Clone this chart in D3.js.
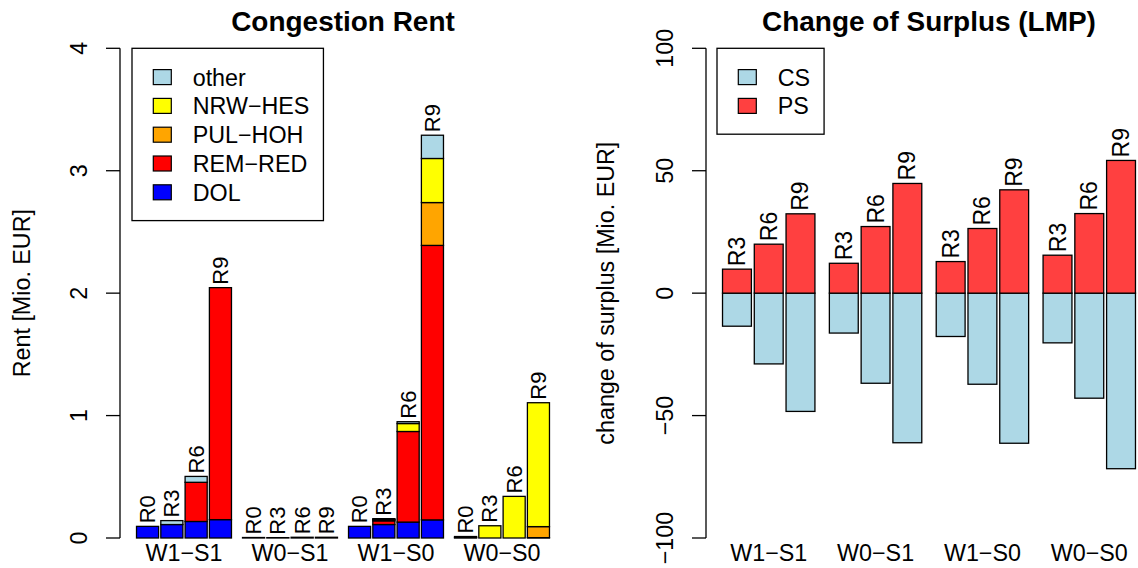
<!DOCTYPE html>
<html>
<head>
<meta charset="utf-8">
<script src="https://cdn.jsdelivr.net/npm/d3@7"></script>
<style>
  body { margin: 0; background: #fff; }
  svg { display: block; font-family: "Liberation Sans", Arial, sans-serif; }
</style>
</head>
<body>
<div id="chart"></div>
<script>
// ---- data ----
const groups = ["W1\u2212S1", "W0\u2212S1", "W1\u2212S0", "W0\u2212S0"];

// congestion rent, 4 runs per group, values in Mio. EUR
const rentRuns = ["R0", "R3", "R6", "R9"];
const rentSeries = ["DOL", "REM\u2212RED", "PUL\u2212HOH", "NRW\u2212HES", "other"];
const rentColors = ["#0000ff", "#ff0000", "#ffa500", "#ffff00", "#add8e6"];
const dol    = [0.095, 0.11, 0.135, 0.15,  0.004, 0.003, 0.006, 0.006,  0.095, 0.11, 0.13, 0.148,  0.004, 0, 0, 0];
const remRed = [0, 0, 0.32, 1.895,         0, 0, 0, 0,                  0, 0.03, 0.74, 2.242,      0, 0, 0, 0.003];
const pulHoh = [0, 0, 0, 0,                0, 0, 0, 0,                  0, 0.008, 0, 0.35,         0, 0, 0, 0.09];
const nrwHes = [0, 0, 0, 0,                0, 0, 0, 0,                  0, 0.004, 0.065, 0.36,     0.008, 0.1, 0.34, 1.012];
const other  = [0, 0.032, 0.048, 0,        0, 0, 0, 0,                  0, 0.006, 0.015, 0.19,     0, 0, 0, 0];
const rentTicks = [0, 1, 2, 3, 4];

// change of surplus, 3 runs per group
const surplusRuns = ["R3", "R6", "R9"];
const ps = [9.8, 20.0, 32.4,  12.2, 27.2, 44.8,  12.9, 26.4, 42.2,  15.5, 32.5, 54.2];
const cs = [-13.5, -28.9, -48.3,  -16.3, -36.8, -61.1,  -17.7, -37.2, -61.3,  -20.3, -42.9, -71.7];
const surplusTicks = [-100, -50, 0, 50, 100];

// ---- layout ----
const W = 1138, H = 568;
const base = 23.3;
const yTop = 48.3, yBottom = 538;
const plotW = 446;

const svg = d3.select("#chart").append("svg")
    .attr("width", W).attr("height", H);

function xScales(left, nGroups, nBars) {
    // R barplot style: bar width 1, gap 0.1 inside a group, 0.5 between groups
    const groupUnits = nBars + 0.1 * (nBars - 1);
    const spanUnits = nGroups * groupUnits + (nGroups - 1) * 0.5;
    const unit = plotW / (spanUnits * 1.08);
    const start = left + 0.04 * spanUnits * unit;
    const x0 = d3.scaleBand()
        .domain(d3.range(nGroups))
        .range([start, start + spanUnits * unit])
        .paddingInner(0.5 / (groupUnits + 0.5))
        .paddingOuter(0);
    const x1 = d3.scaleBand()
        .domain(d3.range(nBars))
        .range([0, x0.bandwidth()])
        .paddingInner(0.1 / 1.1)
        .paddingOuter(0);
    return { x0, x1 };
}

function drawYAxis(g, left, y, ticks, title, titleX) {
    g.append("line")
        .attr("x1", left).attr("x2", left)
        .attr("y1", y(ticks[0])).attr("y2", y(ticks[ticks.length - 1]))
        .attr("stroke", "#000").attr("stroke-width", 1.3);
    ticks.forEach(t => {
        g.append("line")
            .attr("x1", left - 14).attr("x2", left)
            .attr("y1", y(t)).attr("y2", y(t))
            .attr("stroke", "#000").attr("stroke-width", 1.3);
        g.append("text")
            .attr("transform", "translate(" + (left - 33) + "," + y(t) + ") rotate(-90)")
            .attr("text-anchor", "middle")
            .style("font-size", base + "px")
            .text(String(t).replace("-", "\u2212"));
    });
    g.append("text")
        .attr("transform", "translate(" + titleX + "," + ((yTop + yBottom) / 2) + ") rotate(-90)")
        .attr("text-anchor", "middle")
        .attr("dominant-baseline", "central")
        .style("font-size", base + "px")
        .text(title);
}

function drawLegend(g, left, top, names, colors) {
    const rowH = 28.8;
    const box = g.append("rect")
        .attr("x", left).attr("y", top)
        .attr("height", rowH * (names.length + 1) - 0.5)
        .attr("fill", "#fff").attr("stroke", "#000").attr("stroke-width", 1.3);
    let maxW = 0;
    names.forEach((n, i) => {
        const cy = top + rowH * (i + 1);
        g.append("rect")
            .attr("x", left + 21.3).attr("y", cy - 7.5)
            .attr("width", 18).attr("height", 15)
            .attr("fill", colors[i]).attr("stroke", "#000").attr("stroke-width", 1.2);
        const t = g.append("text")
            .attr("x", left + 60.7).attr("y", cy + 8.4)
            .style("font-size", base + "px")
            .text(n);
        maxW = Math.max(maxW, t.node().getComputedTextLength());
    });
    box.attr("width", 60.7 + maxW + 14);
}

// ================= left: Congestion Rent =================
{
    const left = 120;
    const g = svg.append("g");
    const { x0, x1 } = xScales(left, groups.length, rentRuns.length);
    const y = d3.scaleLinear().domain([0, 4]).range([yBottom, yTop]);

    const rows = [];
    groups.forEach((grp, gi) => {
        rentRuns.forEach((run, ri) => {
            const k = gi * rentRuns.length + ri;
            rows.push({
                gi, ri, run,
                "DOL": dol[k], "REM\u2212RED": remRed[k], "PUL\u2212HOH": pulHoh[k],
                "NRW\u2212HES": nrwHes[k], "other": other[k]
            });
        });
    });
    const stacked = d3.stack().keys(rentSeries)(rows);
    const color = d3.scaleOrdinal().domain(rentSeries).range(rentColors);
    const bx = d => x0(d.data.gi) + x1(d.data.ri);

    stacked.forEach(layer => {
        g.selectAll(null)
            .data(layer.filter(d => d[1] - d[0] > 0))
            .enter().append("rect")
            .attr("x", bx)
            .attr("width", x1.bandwidth())
            .attr("y", d => y(d[1]))
            .attr("height", d => y(d[0]) - y(d[1]))
            .attr("fill", color(layer.key))
            .attr("stroke", "#000").attr("stroke-width", 1.3);
    });

    const top = stacked[stacked.length - 1];
    g.selectAll(null)
        .data(top)
        .enter().append("text")
        .attr("transform", d => "translate(" + (bx(d) + x1.bandwidth() / 2) + "," + (y(d[1]) - 3) + ") rotate(-90)")
        .attr("dominant-baseline", "central")
        .style("font-size", "22px")
        .text(d => d.data.run);

    g.selectAll(null)
        .data(groups)
        .enter().append("text")
        .attr("x", (d, i) => x0(i) + x0.bandwidth() / 2)
        .attr("y", 561)
        .attr("text-anchor", "middle")
        .style("font-size", base + "px")
        .text(d => d);

    drawYAxis(g, left, y, rentTicks, "Rent [Mio. EUR]", 22);

    g.append("text")
        .attr("x", left + plotW / 2).attr("y", 31)
        .attr("text-anchor", "middle")
        .style("font-size", (base * 1.2) + "px").style("font-weight", "bold")
        .text("Congestion Rent");

    drawLegend(g, 132, yTop, rentSeries.slice().reverse(), rentColors.slice().reverse());
}

// ================= right: Change of Surplus =================
{
    const left = 706;
    const g = svg.append("g");
    const { x0, x1 } = xScales(left, groups.length, surplusRuns.length);
    const y = d3.scaleLinear().domain([-100, 100]).range([yBottom, yTop]);

    const rows = [];
    groups.forEach((grp, gi) => {
        surplusRuns.forEach((run, ri) => {
            const k = gi * surplusRuns.length + ri;
            rows.push({ gi, ri, run, ps: ps[k], cs: cs[k] });
        });
    });
    const bx = d => x0(d.gi) + x1(d.ri);

    g.selectAll(null)
        .data(rows).enter().append("rect")
        .attr("x", bx).attr("width", x1.bandwidth())
        .attr("y", y(0)).attr("height", d => y(d.cs) - y(0))
        .attr("fill", "#add8e6").attr("stroke", "#000").attr("stroke-width", 1.3);

    g.selectAll(null)
        .data(rows).enter().append("rect")
        .attr("x", bx).attr("width", x1.bandwidth())
        .attr("y", d => y(d.ps)).attr("height", d => y(0) - y(d.ps))
        .attr("fill", "#ff4040").attr("stroke", "#000").attr("stroke-width", 1.3);

    g.selectAll(null)
        .data(rows).enter().append("text")
        .attr("transform", d => "translate(" + (bx(d) + x1.bandwidth() / 2) + "," + (y(d.ps) - 3) + ") rotate(-90)")
        .attr("dominant-baseline", "central")
        .style("font-size", "23px")
        .text(d => d.run);

    g.selectAll(null)
        .data(groups)
        .enter().append("text")
        .attr("x", (d, i) => x0(i) + x0.bandwidth() / 2)
        .attr("y", 561)
        .attr("text-anchor", "middle")
        .style("font-size", base + "px")
        .text(d => d);

    drawYAxis(g, left, y, surplusTicks, "change of surplus [Mio. EUR]", 606);

    g.append("text")
        .attr("x", left + plotW / 2).attr("y", 31)
        .attr("text-anchor", "middle")
        .style("font-size", (base * 1.2) + "px").style("font-weight", "bold")
        .text("Change of Surplus (LMP)");

    drawLegend(g, 717, yTop, ["CS", "PS"], ["#add8e6", "#ff4040"]);
}
</script>
</body>
</html>
